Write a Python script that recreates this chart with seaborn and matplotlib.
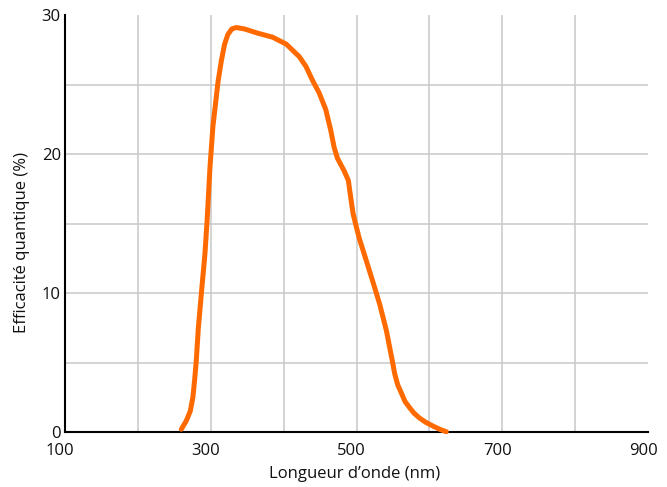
import matplotlib
matplotlib.use("Agg")
import matplotlib.pyplot as plt
import matplotlib.transforms as mtransforms
import seaborn as sns
import pandas as pd

# Données
longueur_onde = [259.6, 266.4, 271.9, 275.5, 277.8, 280.1, 283, 287.5, 292, 295, 299,
                 303, 306.3, 310, 314.5, 319, 323.5, 329, 335, 346, 364, 385, 403.7,
                 421.5, 430.6, 439.6, 448.7, 457.8, 464.7, 469.2, 473.8, 482.9, 488.8,
                 492, 495.3, 503.4, 513.6, 522.5, 531.8, 541.0, 549.2, 552.4, 556.5,
                 561.6, 566.5, 572.9, 579, 586.6, 595, 604.9, 614, 623.2]
efficacite = [0.2, 0.8, 1.5, 2.5, 3.7, 5.1, 7.5, 10.2, 12.8, 15.2, 19.1,
              22.0, 23.5, 25.2, 26.7, 27.9, 28.6, 29.0, 29.1, 29.0, 28.7, 28.4, 27.9,
              27.0, 26.3, 25.3, 24.4, 23.2, 21.7, 20.5, 19.7, 18.8, 18.1,
              16.9, 15.7, 14.0, 12.3, 10.8, 9.2, 7.3, 5.1, 4.2, 3.4,
              2.8, 2.2, 1.75, 1.35, 1.0, 0.7, 0.43, 0.2, 0.02]

x_labels = [100, 300, 500, 700, 900]
x_grid = [200, 300, 400, 500, 600, 700, 800]
y_labels = [0, 10, 20, 30]
y_grid = [5, 10, 15, 20, 25]

df = pd.DataFrame({"lambda": longueur_onde, "eq": efficacite})

sns.set_style("white")
plt.rcParams['font.family'] = ['Open Sans', 'DejaVu Sans']

fig = plt.figure(figsize=(6.67, 4.87), dpi=100)
ax = fig.add_axes([65/667, 1 - 432/487, (648 - 65)/667, (432 - 15)/487])

sns.lineplot(data=df, x="lambda", y="eq", sort=False, color="#ff6a00",
             linewidth=3.6, ax=ax, clip_on=False, zorder=5,
             solid_capstyle="round", solid_joinstyle="round")

ax.set_xlim(100, 900)
ax.set_ylim(0, 30)

ax.set_xticks(x_labels)
ax.set_xticklabels([str(v) for v in x_labels])
ax.set_xticks(x_grid, minor=True)
ax.set_yticks(y_labels)
ax.set_yticklabels([str(v) for v in y_labels])
ax.set_yticks(y_grid, minor=True)
ax.xaxis.remove_overlapping_locs = False
ax.yaxis.remove_overlapping_locs = False

ax.grid(False, which="major")
ax.grid(True, which="minor", color="#c8c8c8", linewidth=1.1)
ax.tick_params(which="both", length=0)
ax.tick_params(axis="x", labelsize=12, pad=8, colors="#111111")
ax.tick_params(axis="y", labelsize=12, pad=3, colors="#111111")

# decalage des etiquettes x vers la gauche
offset = mtransforms.ScaledTranslation(-0.05, 0, fig.dpi_scale_trans)
for lab in ax.get_xticklabels():
    lab.set_transform(lab.get_transform() + offset)

for s in ["top", "right"]:
    ax.spines[s].set_visible(False)
for s in ["left", "bottom"]:
    ax.spines[s].set_color("black")
    ax.spines[s].set_linewidth(1.5)

ax.set_xlabel("Longueur d’onde (nm)", fontsize=12, color="#111111")
ax.set_ylabel("Efficacité quantique (%)", fontsize=12, color="#111111")
ax.xaxis.set_label_coords(0.497, -0.082)
ax.yaxis.set_label_coords(-0.06, 0.455)

fig.savefig("out.png", dpi=100)
